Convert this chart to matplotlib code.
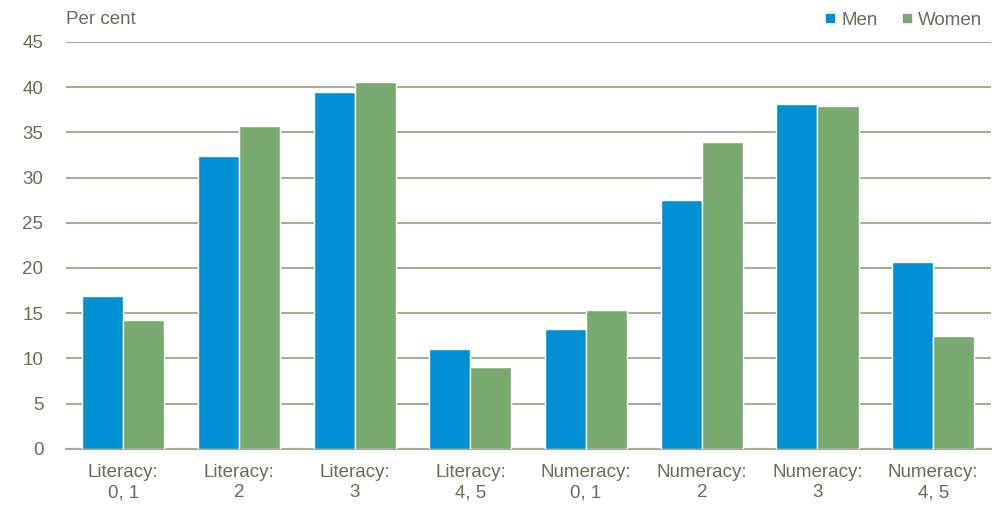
import numpy as np
import matplotlib
matplotlib.use('Agg')
import matplotlib.pyplot as plt
from matplotlib.lines import Line2D

categories = ['Literacy:\n0, 1', 'Literacy:\n2', 'Literacy:\n3', 'Literacy:\n4, 5',
              'Numeracy:\n0, 1', 'Numeracy:\n2', 'Numeracy:\n3', 'Numeracy:\n4, 5']
men = [16.9, 32.4, 39.5, 11.0, 13.2, 27.5, 38.1, 20.7]
women = [14.3, 35.7, 40.6, 9.0, 15.4, 33.9, 37.9, 12.5]
yticks = [0, 5, 10, 15, 20, 25, 30, 35, 40, 45]

men_color = '#0090D4'
women_color = '#78AA6F'
grid_color = '#ABAB9D'
text_color = '#6B6B5E'

plt.rcParams['font.family'] = ['Liberation Sans Narrow', 'Liberation Sans', 'DejaVu Sans']
fs = 13.5

fig = plt.figure(figsize=(10.02, 5.21), dpi=100)
ax = fig.add_axes([65.5 / 1002, 1 - 448.8 / 521, (991 - 65.5) / 1002, (448.8 - 42) / 521])

x = np.arange(len(categories))
w = 0.355
ax.bar(x - w / 2, men, w, color=men_color, edgecolor='white', linewidth=1.0, zorder=3)
ax.bar(x + w / 2, women, w, color=women_color, edgecolor='white', linewidth=1.0, zorder=3)

ax.set_xlim(-0.5, len(categories) - 0.5)
ax.set_ylim(0, 45)
ax.set_yticks(yticks)
ax.set_xticks(x)
ax.set_xticklabels(categories, linespacing=1.25)
ax.yaxis.grid(True, color=grid_color, linewidth=1.5, zorder=0)
ax.set_axisbelow(True)
for s in ['top', 'right', 'left']:
    ax.spines[s].set_visible(False)
ax.spines['bottom'].set_color(grid_color)
ax.spines['bottom'].set_linewidth(1.5)
ax.tick_params(axis='y', length=0, pad=16, labelsize=fs, labelcolor=text_color)
ax.tick_params(axis='x', length=0, pad=11, labelsize=fs, labelcolor=text_color)

fig.text(66 / 1002, 1 - 20 / 521, 'Per cent', fontsize=fs, color=text_color,
         ha='left', va='center')

handles = [Line2D([], [], marker='s', linestyle='', markersize=5.5, color=men_color),
           Line2D([], [], marker='s', linestyle='', markersize=5.5, color=women_color)]
fig.legend(handles, ['Men', 'Women'], loc='center right', bbox_to_anchor=(992 / 1002, 1 - 20 / 521),
           ncol=2, frameon=False, fontsize=fs, labelcolor=text_color,
           handlelength=0.5, handletextpad=0.35, columnspacing=1.3, borderpad=0)

fig.savefig('out.png', dpi=100)
